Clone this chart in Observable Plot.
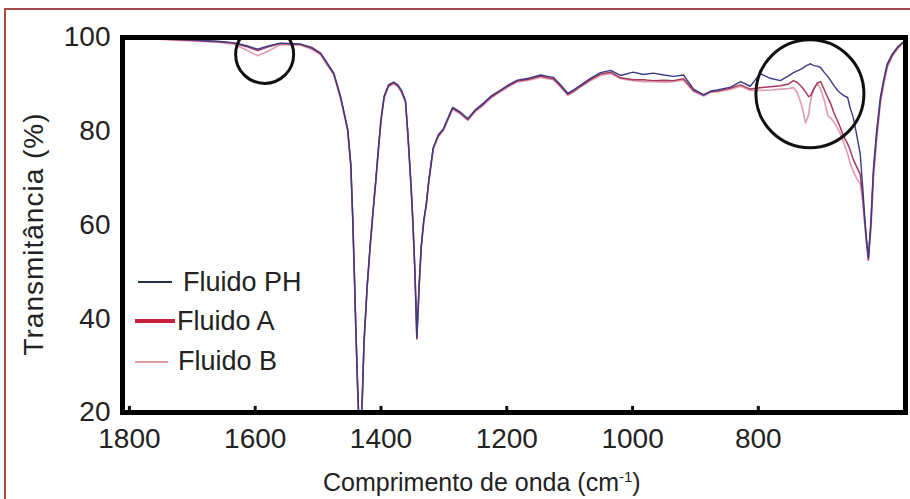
<!DOCTYPE html>
<html>
<head>
<meta charset="utf-8">
<script src="https://cdn.jsdelivr.net/npm/d3@7"></script>
<script src="https://cdn.jsdelivr.net/npm/@observablehq/plot@0.6"></script>
<style>
  html, body { margin: 0; padding: 0; background: #fff; }
  body { width: 910px; height: 499px; overflow: hidden; position: relative; font-family: "Liberation Sans", Arial, sans-serif; }
  #frame { position: absolute; left: 4px; top: 8px; width: 930px; height: 520px; border: 2px solid #a94848; box-sizing: border-box; }
  #chart { position: absolute; left: 0; top: 0; }
  .lbl { position: absolute; color: #222; white-space: nowrap; line-height: 1; }
  #ylabel { left: 34px; top: 234px; font-size: 28px; letter-spacing: 1px; transform: translate(-50%, -50%) rotate(-90deg); }
  #xlabel { left: 323px; top: 469px; font-size: 25px; }
  #xlabel sup { font-size: 15px; vertical-align: 9px; }
  .leg { position: absolute; height: 0; }
  .legtxt { position: absolute; font-size: 27px; color: #222; line-height: 1; white-space: nowrap; }
</style>
</head>
<body>
<div id="frame"></div>
<div id="chart"></div>
<div id="ylabel" class="lbl">Transmitância (%)</div>
<div id="xlabel" class="lbl">Comprimento de onda (cm<sup>-1</sup>)</div>
<div id="legend"></div>
<script>
// Wavenumbers (cm-1), descending
const wavenumbers = [
  1811,1703,1660,1635,1615,1596,1579,1560,1528,1510,
  1496,1475,1464,1453,1448,1445,1442,1440,1437,1434,
  1430,1427,1422,1417,1412,1408,1404,1400,1395,1388,
  1380,1373,1367,1361,1357,1352,1349,1346,1344,1343,
  1341,1339,1336,1332,1328,1324,1317,1309,1301,1293,
  1286,1275,1262,1250,1237,1224,1210,1196,1183,1165,
  1146,1135,1126,1115,1103,1093,1083,1067,1051,1035,
  1019,999,983,967,950,935,919,903,887,875,
  865,844,828,813,797,781,765,752,744,738,
  731,725,720,717,712,706,701,695,689,685,
  680,674,670,664,658,654,649,644,638,634,
  631,628,625,621,617,612,606,600,595,587,
  579,571,566
];
const fluidoPH = [
  100,99.5,99.2,98.9,98.3,97.5,98.2,98.8,98.6,97.9,
  96.7,92.4,87.3,80.5,73,62,48,38,25,14,
  22,35,47,56,64,70,76.5,82.5,87.5,89.9,
  90.5,89.9,88.6,86.5,79,68,60,50,41,36,
  42,48,55.5,61,64.5,69.5,76.5,79.2,80.5,83,
  85.1,84.2,82.7,84.6,86,87.6,88.8,90,90.9,91.3,
  92,91.7,91.5,90,88.1,88.9,89.8,91.3,92.5,93,
  91.9,92.6,92.1,92.4,92,91.7,92,89,87.7,88.6,
  88.8,89.4,90.6,89.6,92.3,91.3,90.8,91.8,92.5,92.9,
  93.3,93.9,94.2,94.4,94,93.9,93.6,92.5,91.6,90.8,
  89.8,88.7,88.2,87.6,87.2,85,82.9,79.5,75.2,68,
  62,57,53,61,72,80,87.2,91.5,94.4,96.5,
  97.9,98.9,99.3
];
const fluidoA = [
  100,99.4,99.1,98.8,98.1,97.2,98,98.7,98.5,97.7,
  96.5,92.2,87.1,80.3,72.8,61.8,47.8,37.8,24.8,13.8,
  21.8,34.8,46.8,55.8,63.8,69.8,76.3,82.3,87.3,89.7,
  90.3,89.7,88.4,86.3,78.8,67.8,59.8,49.8,40.8,35.8,
  41.8,47.8,55.3,60.8,64.3,69.3,76.3,79,80.3,82.8,
  84.9,84,82.5,84.4,85.8,87.4,88.6,89.8,90.7,91.1,
  91.8,91.4,91.2,89.7,87.9,88.6,89.6,91,92.2,92.6,
  91.4,91.0,91.0,90.8,90.9,90.8,91.2,88.7,87.8,88.5,
  88.6,89.2,89.9,89.0,89.3,89.5,89.7,90.1,90.8,90.4,
  89.5,88.4,87.4,87.6,89.0,90.3,90.6,88.8,87.0,85.9,
  84.0,82.2,80.9,78.8,77.3,76.0,74.0,72.5,70.8,66,
  61,56.5,52.6,60,71,79,86.5,91,94,96.2,
  97.7,98.8,99.2
];
const fluidoB = [
  100,99.3,99.0,98.6,97.4,96.1,97.1,98.5,98.4,97.5,
  96.3,92.0,86.9,80.1,72.6,61.6,47.6,37.6,24.6,13.6,
  21.6,34.6,46.6,55.6,63.6,69.6,76.1,82.1,87.1,89.5,
  90.1,89.5,88.2,86.1,78.6,67.6,59.6,49.6,40.6,35.6,
  41.6,47.6,55.1,60.6,64.1,69.1,76.1,78.8,80.1,82.6,
  84.7,83.8,82.3,84.2,85.6,87.2,88.4,89.6,90.5,90.9,
  91.5,91.2,91.0,89.5,87.7,88.4,89.4,90.8,91.9,92.3,
  91.2,90.8,90.6,90.6,90.5,90.6,90.9,88.5,87.5,88.3,
  88.4,88.9,89.6,88.7,88.7,88.8,89.0,89.1,89.3,88.2,
  85.5,81.8,83.5,86.5,89.0,90.2,89.0,86.5,83.2,82.8,
  82.0,80.6,79.6,77.5,75.2,73.2,71.5,70.0,68.8,65,
  60.5,56,52.5,59,70,78,86,90.5,93.6,96.0,
  97.6,98.7,99.1
];
const seriesNames = ["Fluido PH", "Fluido A", "Fluido B"];
const lineColors = ["#3a3a86", "#a8385a", "#e0a0b0"];
const legendColors = ["#243047", "#c8203a", "#dc9aa4"];
const xTicks = [1800, 1600, 1400, 1200, 1000, 800];
const yTicks = [20, 40, 60, 80, 100];
const xDomain = [1811, 566];
const yDomain = [20, 100];
// Annotation circles (centre in data units, radius in px)
const circleWn = [1585, 718];
const circleT = [96.4, 88.0];
const circleR = [29, 54];

const mk = vals => wavenumbers.map((w, i) => ({wn: w, v: vals[i]}));
const rowsPH = mk(fluidoPH), rowsA = mk(fluidoA), rowsB = mk(fluidoB);
const circles = circleWn.map((w, i) => ({wn: w, v: circleT[i], r: circleR[i]}));

const chart = Plot.plot({
  width: 910,
  height: 460,
  marginTop: 37,
  marginBottom: 48,
  marginLeft: 122,
  marginRight: 5,
  x: {domain: xDomain, label: null},
  y: {domain: yDomain, label: null},
  style: {fontFamily: "'Liberation Sans', Arial, sans-serif", fontSize: "28px", color: "#222", background: "transparent", overflow: "visible"},
  marks: [
    Plot.line(rowsB, {x: "wn", y: "v", stroke: lineColors[2], strokeWidth: 1.7, clip: true}),
    Plot.line(rowsA, {x: "wn", y: "v", stroke: lineColors[1], strokeWidth: 1.5, clip: true}),
    Plot.line(rowsPH, {x: "wn", y: "v", stroke: lineColors[0], strokeWidth: 1.4, clip: true}),
    ...circles.map(c => Plot.dot([c], {x: "wn", y: "v", r: c.r, stroke: "#111", strokeWidth: 3, fill: "none", clip: true})),
    Plot.ruleX(xTicks, {x: d => d, y1: yDomain[0], y2: yDomain[0] + 1.3, stroke: "#111", strokeWidth: 3}),
    Plot.frame({stroke: "#000", strokeWidth: 5}),
    Plot.axisX(xTicks, {tickSize: 0, tickPadding: 16, tickFormat: d => String(d), label: null}),
    Plot.axisY(yTicks, {tickSize: 0, tickPadding: 12, tickFormat: d => String(d), label: null})
  ]
});
document.getElementById("chart").appendChild(chart);

// Legend (HTML overlay)
const legend = document.getElementById("legend");
const legLines = [
  {x: 138, w: 34, y: 282, h: 2.5, tx: 183, ty: 283},
  {x: 135, w: 40, y: 321, h: 3.5, tx: 177, ty: 322},
  {x: 135, w: 33, y: 362, h: 2.5, tx: 178, ty: 362}
];
seriesNames.forEach((name, i) => {
  const L = legLines[i];
  const line = document.createElement("div");
  line.className = "leg";
  line.style.cssText = `left:${L.x}px;top:${L.y - L.h/2}px;width:${L.w}px;height:${L.h}px;background:${legendColors[i]};`;
  legend.appendChild(line);
  const t = document.createElement("div");
  t.className = "legtxt";
  t.textContent = name;
  t.style.cssText = `left:${L.tx}px;top:${L.ty - 14}px;`;
  legend.appendChild(t);
});
</script>
</body>
</html>
